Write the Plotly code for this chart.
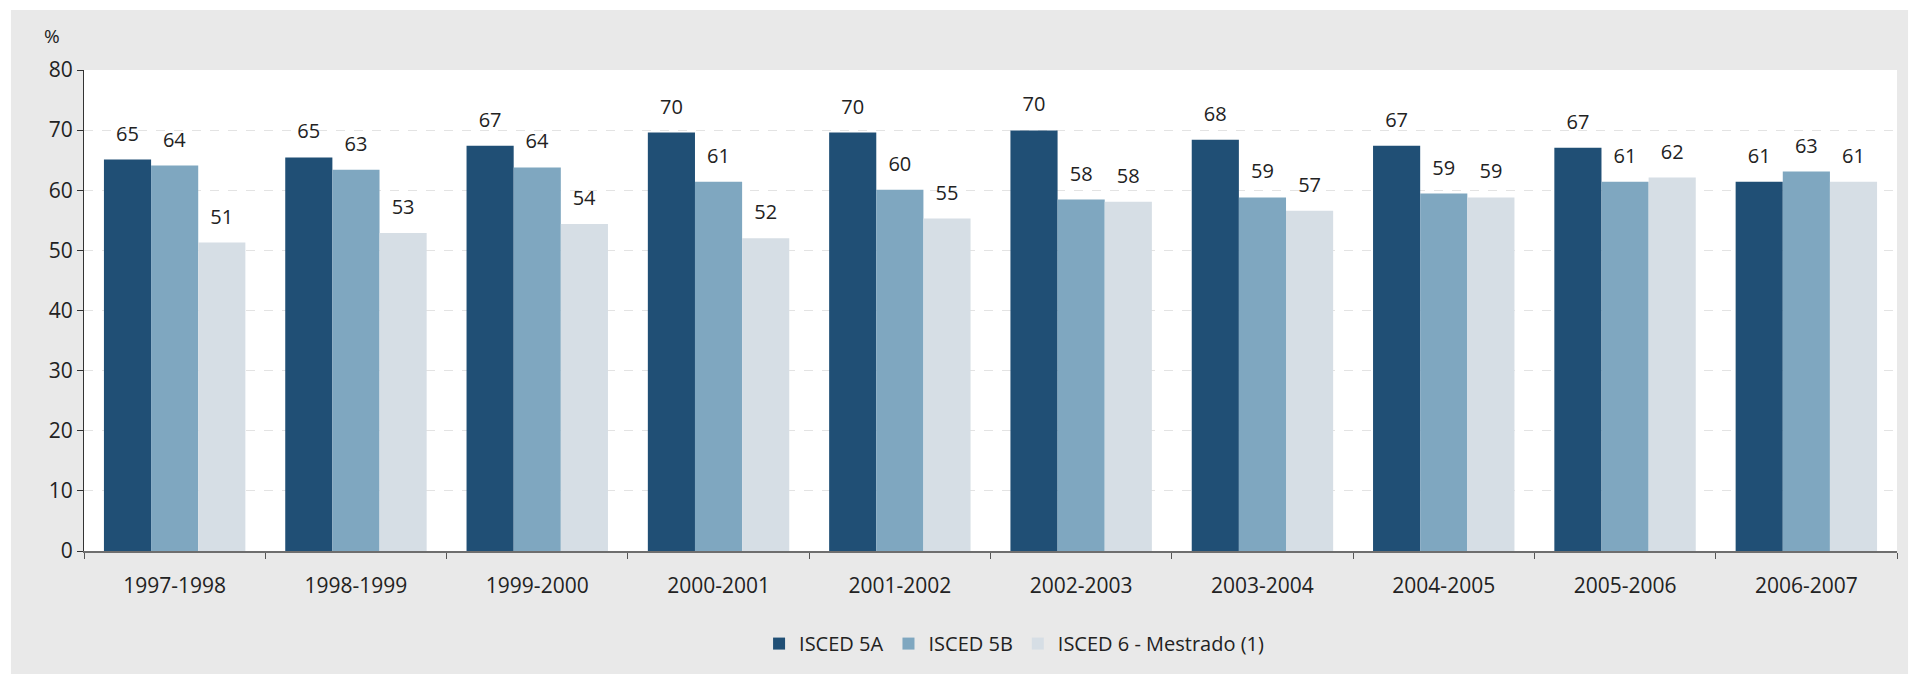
import plotly.graph_objects as go

categories = ["1997-1998", "1998-1999", "1999-2000", "2000-2001", "2001-2002",
              "2002-2003", "2003-2004", "2004-2005", "2005-2006", "2006-2007"]
isced_5a = [65.1, 65.45, 67.4, 69.6, 69.6, 69.95, 68.4, 67.4, 67.05, 61.4]
isced_5b = [64.1, 63.4, 63.8, 61.4, 60.1, 58.45, 58.8, 59.45, 61.4, 63.1]
isced_6 = [51.3, 52.9, 54.4, 52.0, 55.3, 58.1, 56.6, 58.8, 62.1, 61.4]

series_names = ["ISCED 5A", "ISCED 5B", "ISCED 6 - Mestrado (1)"]
series_colors = ["#204F75", "#7FA7C0", "#D6DEE5"]
y_ticks = [0, 10, 20, 30, 40, 50, 60, 70, 80]

FONT = "Open Sans"
TXT = "#222222"

fig = go.Figure()
for name, vals, col in zip(series_names, [isced_5a, isced_5b, isced_6], series_colors):
    fig.add_trace(go.Bar(
        x=categories, y=vals, name=name, marker=dict(color=col, line=dict(width=0)),
        texttemplate="<span style='font-size:20px'>%{y:.0f}</span><br><span> </span>",
        textposition="outside", cliponaxis=False, constraintext="none",
        textfont=dict(family=FONT, size=10, color=TXT),
    ))

fig.update_layout(
    width=1921, height=674,
    barmode="group", bargap=0.22, bargroupgap=0,
    paper_bgcolor="white", plot_bgcolor="rgba(0,0,0,0)",
    margin=dict(l=84, r=24, t=70, b=122),
    font=dict(family=FONT, size=20, color=TXT),
    showlegend=True,
    legend=dict(orientation="h", x=0.513, xanchor="center", y=-0.19, yanchor="middle",
                font=dict(family=FONT, size=20, color=TXT), bgcolor="rgba(0,0,0,0)",
                traceorder="normal", itemwidth=30),
    shapes=[
        dict(type="rect", xref="paper", yref="paper", x0=-0.0403, x1=1.0061, y0=-0.3, y1=1.1245,
             fillcolor="#E9E9E9", line=dict(width=0), layer="below"),
        dict(type="rect", xref="paper", yref="paper", x0=0, x1=1, y0=0, y1=1,
             fillcolor="white", line=dict(width=0), layer="below"),
    ],
    annotations=[
        dict(text="%", xref="paper", yref="paper", x=-0.0175, y=1.0705, showarrow=False,
             font=dict(family=FONT, size=19, color=TXT), xanchor="center", yanchor="middle"),
    ],
)

fig.update_yaxes(
    range=[0, 80], tickvals=y_ticks, showgrid=True, gridcolor="#E3E3E3", griddash="dash",
    gridwidth=1, showline=True, linecolor="#333333", linewidth=1, ticks="outside",
    ticklen=6, tickcolor="#333333", zeroline=False,
    tickfont=dict(family=FONT, size=21, color=TXT),
)
fig.update_xaxes(
    showline=True, linecolor="#6E6E6E", linewidth=2, ticks="outside", tickson="boundaries",
    ticklen=6, tickcolor="#555555", showgrid=False, ticklabelstandoff=15,
    tickfont=dict(family=FONT, size=21, color=TXT),
)

fig.write_html("out.html", config={"displayModeBar": False},
               post_script="document.body.style.margin='0';")
